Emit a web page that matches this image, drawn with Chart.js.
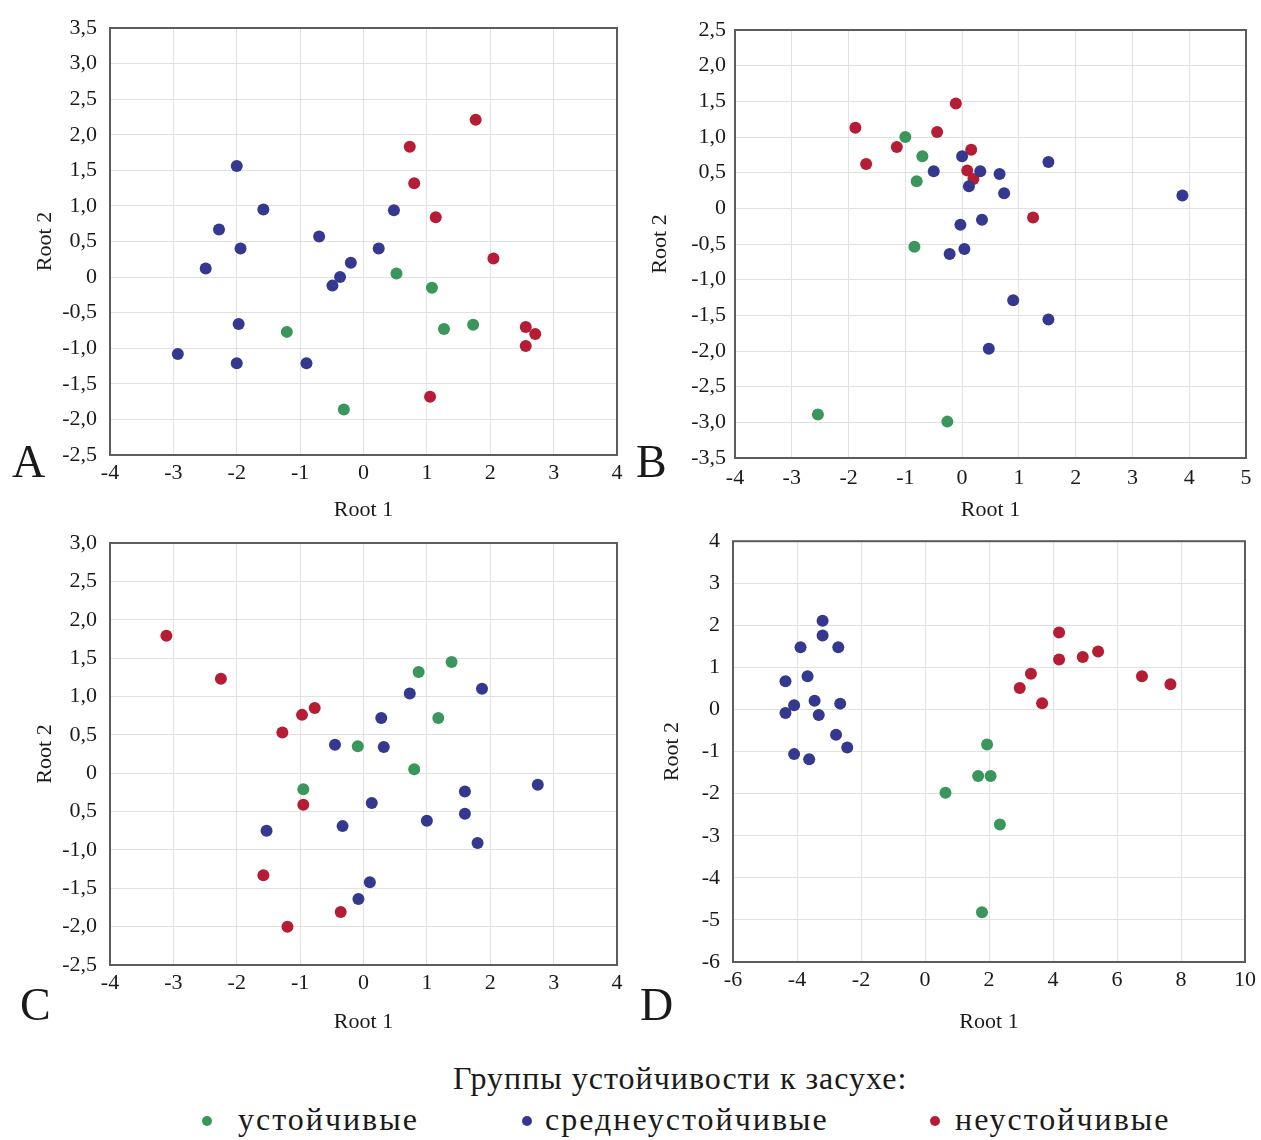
<!DOCTYPE html>
<html>
<head>
<meta charset="utf-8">
<script src="https://cdn.jsdelivr.net/npm/chart.js@4.4.1/dist/chart.umd.min.js"></script>
<style>
  body { margin: 0; background: #fff; width: 1261px; height: 1140px; position: relative; overflow: hidden;
         font-family: 'Liberation Serif', 'Times New Roman', serif; color: #1a1a1a; }
  canvas { position: absolute; }
  #cA { left: 0; top: 0; }
  #cB { left: 625px; top: 0; }
  #cC { left: 0; top: 515px; }
  #cD { left: 625px; top: 515px; }
  .letter { position: absolute; font-size: 46px; line-height: 1; }
  .legend-title { position: absolute; left: 453px; top: 1062px; font-size: 32px; letter-spacing: 1px; line-height: 1; white-space: nowrap; }
  .item { position: absolute; top: 1103px; font-size: 32px; letter-spacing: 2px; line-height: 1; white-space: nowrap; }
  .item .dot { position: absolute; top: 13px; width: 10px; height: 10px; border-radius: 50%; }
  .item:nth-of-type(1) { left: 238px; } .item:nth-of-type(1) .dot { left: -36px; }
  .item:nth-of-type(2) { left: 545px; } .item:nth-of-type(2) .dot { left: -23px; }
  .item:nth-of-type(3) { left: 955px; } .item:nth-of-type(3) .dot { left: -25px; }
</style>
</head>
<body>
<canvas id="cA" width="630" height="530"></canvas>
<canvas id="cB" width="636" height="530"></canvas>
<canvas id="cC" width="630" height="530"></canvas>
<canvas id="cD" width="636" height="530"></canvas>
<div class="letter" style="left:12px; top:439px;">A</div>
<div class="letter" style="left:636px; top:439px;">B</div>
<div class="letter" style="left:20px; top:982px;">C</div>
<div class="letter" style="left:640px; top:982px;">D</div>
<div class="legend-title">Группы устойчивости к засухе:</div>
<div id="legend"></div>

<script>
const serif = "'Liberation Serif', 'Times New Roman', serif";

const groupNames = ['устойчивые', 'среднеустойчивые', 'неустойчивые'];
const groupColors = ['#3b965b', '#35388f', '#b51d35'];

// A
const aStable = [[-1.21, -0.77], [0.52, 0.05], [1.08, -0.15], [1.27, -0.73], [1.73, -0.67], [-0.31, -1.86]];
const aMid = [[-2.0, 1.56], [-1.58, 0.95], [-2.28, 0.67], [-1.94, 0.40], [-2.49, 0.12], [-1.97, -0.66],
              [-2.93, -1.08], [-2.0, -1.21], [-0.90, -1.21], [-0.70, 0.57], [0.48, 0.94], [0.24, 0.40],
              [-0.20, 0.20], [-0.37, 0.0], [-0.49, -0.12]];
const aWeak = [[1.77, 2.21], [0.73, 1.83], [0.80, 1.32], [1.14, 0.84], [2.05, 0.26], [2.56, -0.70],
               [2.71, -0.80], [2.56, -0.97], [1.05, -1.68]];
const aXTicks = ['-4', '-3', '-2', '-1', '0', '1', '2', '3', '4'];
const aYTicks = ['-2,5', '-2,0', '-1,5', '-1,0', '-0,5', '0', '0,5', '1,0', '1,5', '2,0', '2,5', '3,0', '3,5'];

// B
const bStable = [[-1.0, 1.0], [-0.70, 0.73], [-0.80, 0.38], [-0.84, -0.54], [-2.54, -2.89], [-0.26, -2.99]];
const bMid = [[-0.50, 0.52], [0.0, 0.73], [0.32, 0.52], [0.12, 0.31], [0.66, 0.48], [0.74, 0.21],
              [1.52, 0.65], [3.88, 0.18], [-0.03, -0.23], [0.35, -0.16], [-0.22, -0.64], [0.04, -0.57],
              [0.90, -1.29], [1.52, -1.56], [0.47, -1.97]];
const bWeak = [[-1.88, 1.13], [-1.69, 0.62], [-1.15, 0.86], [-0.44, 1.07], [-0.11, 1.47], [0.16, 0.82],
               [0.09, 0.53], [0.20, 0.41], [1.25, -0.13]];
const bXTicks = ['-4', '-3', '-2', '-1', '0', '1', '2', '3', '4', '5'];
const bYTicks = ['-3,5', '-3,0', '-2,5', '-2,0', '-1,5', '-1,0', '-0,5', '0', '0,5', '1,0', '1,5', '2,0', '2,5'];

// C
const cStable = [[1.39, 1.45], [0.87, 1.32], [1.18, 0.72], [-0.09, 0.35], [0.80, 0.05], [-0.95, -0.21]];
const cMid = [[0.73, 1.04], [1.87, 1.10], [0.28, 0.72], [-0.45, 0.37], [0.32, 0.34], [0.13, -0.39],
              [-1.53, -0.75], [-0.33, -0.69], [1.0, -0.62], [1.6, -0.24], [1.6, -0.53], [1.8, -0.91],
              [2.75, -0.15], [0.1, -1.42], [-0.08, -1.64]];
const cWeak = [[-3.11, 1.79], [-2.25, 1.23], [-1.28, 0.53], [-0.97, 0.76], [-0.77, 0.85], [-0.95, -0.41],
               [-1.58, -1.33], [-1.2, -2.0], [-0.36, -1.81]];
const cXTicks = ['-4', '-3', '-2', '-1', '0', '1', '2', '3', '4'];
const cYTicks = ['-2,5', '-2,0', '-1,5', '-1,0', '0,5', '0', '0,5', '1,0', '1,5', '2,0', '2,5', '3,0'];

// D
const dStable = [[1.94, -0.83], [1.66, -1.58], [2.05, -1.58], [0.64, -1.98], [2.34, -2.73], [1.78, -4.82]];
const dMid = [[-3.2, 2.11], [-3.2, 1.76], [-3.89, 1.48], [-2.71, 1.48], [-3.67, 0.79], [-4.36, 0.67],
              [-3.45, 0.21], [-2.65, 0.14], [-4.09, 0.10], [-4.36, -0.08], [-3.32, -0.13], [-2.78, -0.60],
              [-2.43, -0.90], [-4.09, -1.06], [-3.62, -1.18]];
const dWeak = [[4.19, 1.83], [4.19, 1.19], [4.93, 1.25], [5.41, 1.38], [6.78, 0.79], [7.67, 0.60],
               [3.31, 0.85], [2.96, 0.51], [3.66, 0.15]];
const dXTicks = ['-6', '-4', '-2', '0', '2', '4', '6', '8', '10'];
const dYTicks = ['-6', '-5', '-4', '-3', '-2', '-1', '0', '1', '2', '3', '4'];

// numeric range of an axis from its first and last label
function rangeOf(labels) {
  const lo = parseFloat(labels[0].replace(',', '.'));
  const hi = parseFloat(labels[labels.length - 1].replace(',', '.'));
  return { min: lo, max: hi, step: (hi - lo) / (labels.length - 1) };
}

// plot frame drawn on all four sides
const framePlugin = {
  id: 'frame',
  beforeDatasetsDraw(chart) {
    const { ctx, chartArea: a } = chart;
    ctx.save();
    ctx.strokeStyle = '#5c5c5c';
    ctx.lineWidth = 2;
    ctx.strokeRect(a.left, a.top, a.right - a.left, a.bottom - a.top);
    ctx.restore();
  }
};

function axis(labels, opts) {
  const r = rangeOf(labels);
  return {
    type: 'linear',
    position: opts.position,
    min: r.min,
    max: r.max,
    ticks: {
      stepSize: r.step,
      autoSkip: false,
      color: '#1a1a1a',
      padding: opts.tickPad,
      font: { family: serif, size: 22 },
      callback: (v) => labels[Math.round((v - r.min) / r.step)]
    },
    grid: { color: '#e2e2e2', lineWidth: 1, drawTicks: false },
    border: { display: false },
    title: {
      display: true,
      text: opts.title,
      color: '#1a1a1a',
      font: { family: serif, size: 22 },
      padding: opts.titlePad
    },
    afterFit: opts.fit
  };
}

function panel(id, series, xLabels, yLabels, box) {
  const canvas = document.getElementById(id);
  const W = canvas.width, H = canvas.height;
  new Chart(canvas, {
    type: 'scatter',
    data: {
      datasets: series.map((pts, i) => ({
        label: groupNames[i],
        data: pts.map(p => ({ x: p[0], y: p[1] })),
        backgroundColor: groupColors[i],
        borderWidth: 0,
        pointRadius: 6,
        pointHoverRadius: 6
      }))
    },
    options: {
      responsive: false,
      animation: false,
      devicePixelRatio: 1,
      layout: { padding: { left: 0, top: box.top, right: W - box.right, bottom: 0 } },
      plugins: { legend: { display: false }, tooltip: { enabled: false } },
      scales: {
        x: axis(xLabels, {
          position: 'bottom', title: 'Root 1', tickPad: box.xTickPad,
          titlePad: { top: 0, bottom: H - box.xTitleY - 13 },
          fit: s => { s.height = H - box.bottom; }
        }),
        y: axis(yLabels, {
          position: 'left', title: 'Root 2', tickPad: box.yTickPad,
          titlePad: { top: box.yTitleX - 13, bottom: 0 },
          fit: s => { s.width = box.left; }
        })
      }
    },
    plugins: [framePlugin]
  });
}

panel('cA', [aStable, aMid, aWeak], aXTicks, aYTicks,
  { left: 110, top: 28, right: 617, bottom: 455, xTickPad: 5, yTickPad: 13, xTitleY: 510, yTitleX: 45 });
panel('cB', [bStable, bMid, bWeak], bXTicks, bYTicks,
  { left: 110, top: 30, right: 621, bottom: 458, xTickPad: 7, yTickPad: 9, xTitleY: 510, yTitleX: 35 });
panel('cC', [cStable, cMid, cWeak], cXTicks, cYTicks,
  { left: 110, top: 28, right: 617, bottom: 450, xTickPad: 5, yTickPad: 13, xTitleY: 507, yTitleX: 45 });
panel('cD', [dStable, dMid, dWeak], dXTicks, dYTicks,
  { left: 108, top: 25, right: 625, bottom: 447, xTickPad: 5, yTickPad: 13, xTitleY: 507, yTitleX: 47 });

// legend row
const legend = document.getElementById('legend');
groupNames.forEach((name, i) => {
  const item = document.createElement('div');
  item.className = 'item';
  const dot = document.createElement('span');
  dot.className = 'dot';
  dot.style.background = groupColors[i];
  item.appendChild(dot);
  item.appendChild(document.createTextNode(name));
  legend.appendChild(item);
});
</script>
</body>
</html>
